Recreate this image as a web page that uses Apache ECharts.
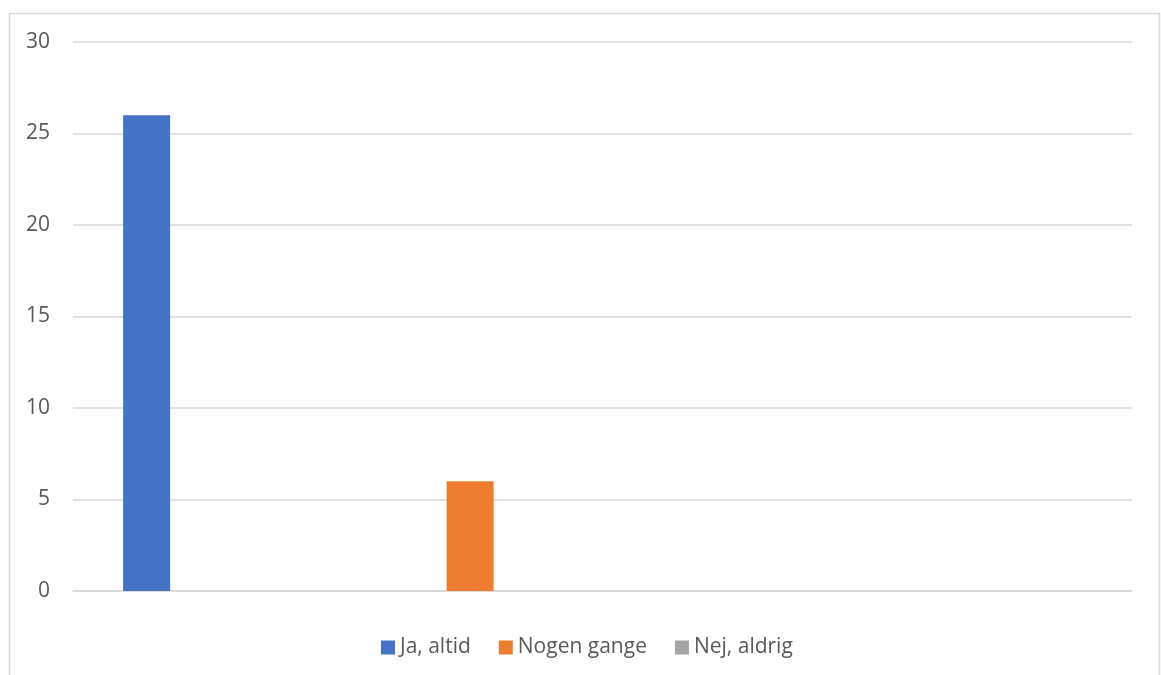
<!DOCTYPE html>
<html>
<head>
<meta charset="utf-8">
<script src="https://cdn.jsdelivr.net/npm/echarts@6/dist/echarts.min.js"></script>
<style>html,body{margin:0;padding:0;background:#fff}#c{width:1161px;height:675px}</style>
</head>
<body>
<div id="c"></div>
<script>
const categories = ['', '', '', ''];
const jaAltid = [26, 0, 0, 0];
const nogenGange = [0, 6, 0, 0];
const nejAldrig = [0, 0, 0, 0];
const seriesNames = ['Ja, altid', 'Nogen gange', 'Nej, aldrig'];
const colors = ['#4472c4', '#ed7d31', '#a5a5a5'];
const yTicks = { min: 0, max: 30, interval: 5 };

const chart = echarts.init(document.getElementById('c'), null, { renderer: 'canvas' });
const font = '"Open Sans", "Liberation Sans", sans-serif';
const mk = (name, data, color) => ({
  name, type: 'bar', data, barWidth: 47, barGap: '25%',
  itemStyle: { color }, emphasis: { disabled: true }
});
chart.setOption({
  animation: false,
  color: colors,
  graphic: [{
    type: 'rect', shape: { x: 9.5, y: 13.5, width: 1150, height: 700 },
    style: { fill: 'none', stroke: '#d9d9d9', lineWidth: 1.5 }, silent: true
  }],
  grid: { left: 73, right: 29, top: 42, bottom: 84, containLabel: false },
  legend: {
    bottom: 12, left: 376, itemWidth: 14, itemHeight: 14, itemGap: 28,
    icon: 'rect',
    textStyle: { fontFamily: font, fontSize: 21, color: '#595959' },
    data: seriesNames
  },
  xAxis: {
    type: 'category', data: categories, boundaryGap: true,
    axisLine: { show: true, lineStyle: { color: '#d9d9d9', width: 1.5 } },
    axisTick: { show: false }, axisLabel: { show: false }
  },
  yAxis: {
    type: 'value', min: yTicks.min, max: yTicks.max, interval: yTicks.interval,
    axisLine: { show: false }, axisTick: { show: false },
    axisLabel: { fontFamily: font, fontSize: 21, color: '#595959', margin: 23 },
    splitLine: { lineStyle: { color: '#d9d9d9', width: 1.5 } }
  },
  series: [
    mk(seriesNames[0], jaAltid, colors[0]),
    mk(seriesNames[1], nogenGange, colors[1]),
    mk(seriesNames[2], nejAldrig, colors[2])
  ]
});
</script>
</body>
</html>
